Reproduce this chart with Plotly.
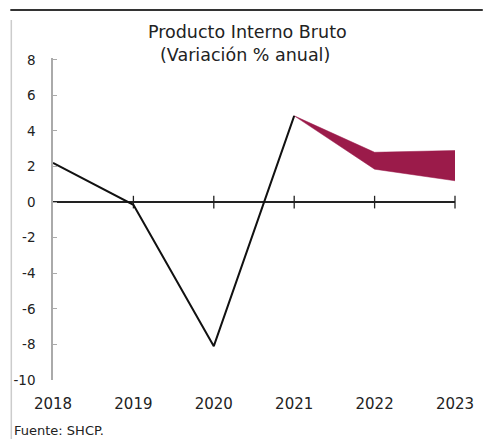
import plotly.graph_objects as go

years_hist = [2018, 2019, 2020, 2021]
pib_hist = [2.2, -0.15, -8.1, 4.85]

years_proj = [2021, 2022, 2023]
proj_upper = [4.85, 2.8, 2.9]
proj_lower = [4.85, 1.85, 1.2]

tick_years = [2018, 2019, 2020, 2021, 2022, 2023]
y_ticks = [8, 6, 4, 2, 0, -2, -4, -6, -8, -10]

band_color = "#9b1b4a"
font_fam = "DejaVu Sans, Verdana, sans-serif"

fig = go.Figure()

# projection band
fig.add_trace(go.Scatter(x=years_proj, y=proj_upper, mode="lines",
                         line=dict(color=band_color, width=0.5), hoverinfo="skip",
                         showlegend=False))
fig.add_trace(go.Scatter(x=years_proj, y=proj_lower, mode="lines", fill="tonexty",
                         fillcolor=band_color, line=dict(color=band_color, width=0.5),
                         hoverinfo="skip", showlegend=False))

# zero-line tick marks
fig.add_trace(go.Scatter(x=tick_years[1:], y=[0] * (len(tick_years) - 1), mode="markers",
                         marker=dict(symbol="line-ns-open", size=9, color="#222222",
                                     line=dict(color="#222222", width=1.3)),
                         cliponaxis=False, hoverinfo="skip", showlegend=False))

# historical line
fig.add_trace(go.Scatter(x=years_hist, y=pib_hist, mode="lines",
                         line=dict(color="#111111", width=2), cliponaxis=False,
                         showlegend=False))

fig.update_layout(
    width=486, height=439,
    margin=dict(l=53, r=28, t=58, b=59),
    paper_bgcolor="white", plot_bgcolor="white",
    font=dict(family=font_fam, color="#222222"),
    xaxis=dict(range=[2018, 2023], tickvals=tick_years, ticktext=[str(y) for y in tick_years],
               showgrid=False, zeroline=False, showline=False, ticks="",
               tickfont=dict(size=15, color="#222222"), ticklabelstandoff=13),
    yaxis=dict(range=[-10, 8.1], tickvals=y_ticks, ticktext=[str(v) for v in y_ticks],
               showgrid=False,
               zeroline=True, zerolinecolor="#222222", zerolinewidth=2,
               showline=True, linecolor="#aaaaaa", linewidth=1.5,
               ticks="inside", ticklen=4, tickcolor="#aaaaaa",
               tickfont=dict(size=13.5, color="#222222"), ticklabelstandoff=13),
    annotations=[
        dict(text="Producto Interno Bruto", x=249, y=439 - 32, xref="paper", yref="paper",
             xanchor="center", yanchor="middle",
             showarrow=False, font=dict(size=17.5, color="#222222")),
        dict(text="(Variación % anual)", x=246, y=439 - 55, xref="paper", yref="paper",
             xanchor="center", yanchor="middle",
             showarrow=False, font=dict(size=17.5, color="#222222")),
        dict(text="Fuente: SHCP.", x=12, y=439 - 431, xref="paper", yref="paper",
             xanchor="left", yanchor="middle",
             showarrow=False, font=dict(size=13, color="#222222")),
    ],
)

# convert pixel-placed annotations to paper fractions
pw, ph = 486 - 53 - 28, 439 - 58 - 59
for a in fig.layout.annotations:
    a.x = (a.x - 53) / pw
    a.y = (a.y - 59) / ph

fig.add_shape(type="line", xref="paper", yref="paper",
              x0=(10 - 53) / pw, x1=(486 - 53) / pw,
              y0=(439 - 10 - 59) / ph, y1=(439 - 10 - 59) / ph,
              line=dict(color="#333333", width=2))
fig.add_shape(type="line", xref="paper", yref="paper",
              x0=(11 - 53) / pw, x1=(11 - 53) / pw,
              y0=(439 - 20 - 59) / ph, y1=(0 - 59) / ph,
              line=dict(color="#cccccc", width=1.5))

fig.write_html("out.html", config={"displayModeBar": False},
               post_script="document.body.style.margin='0';document.body.style.overflow='hidden';")
